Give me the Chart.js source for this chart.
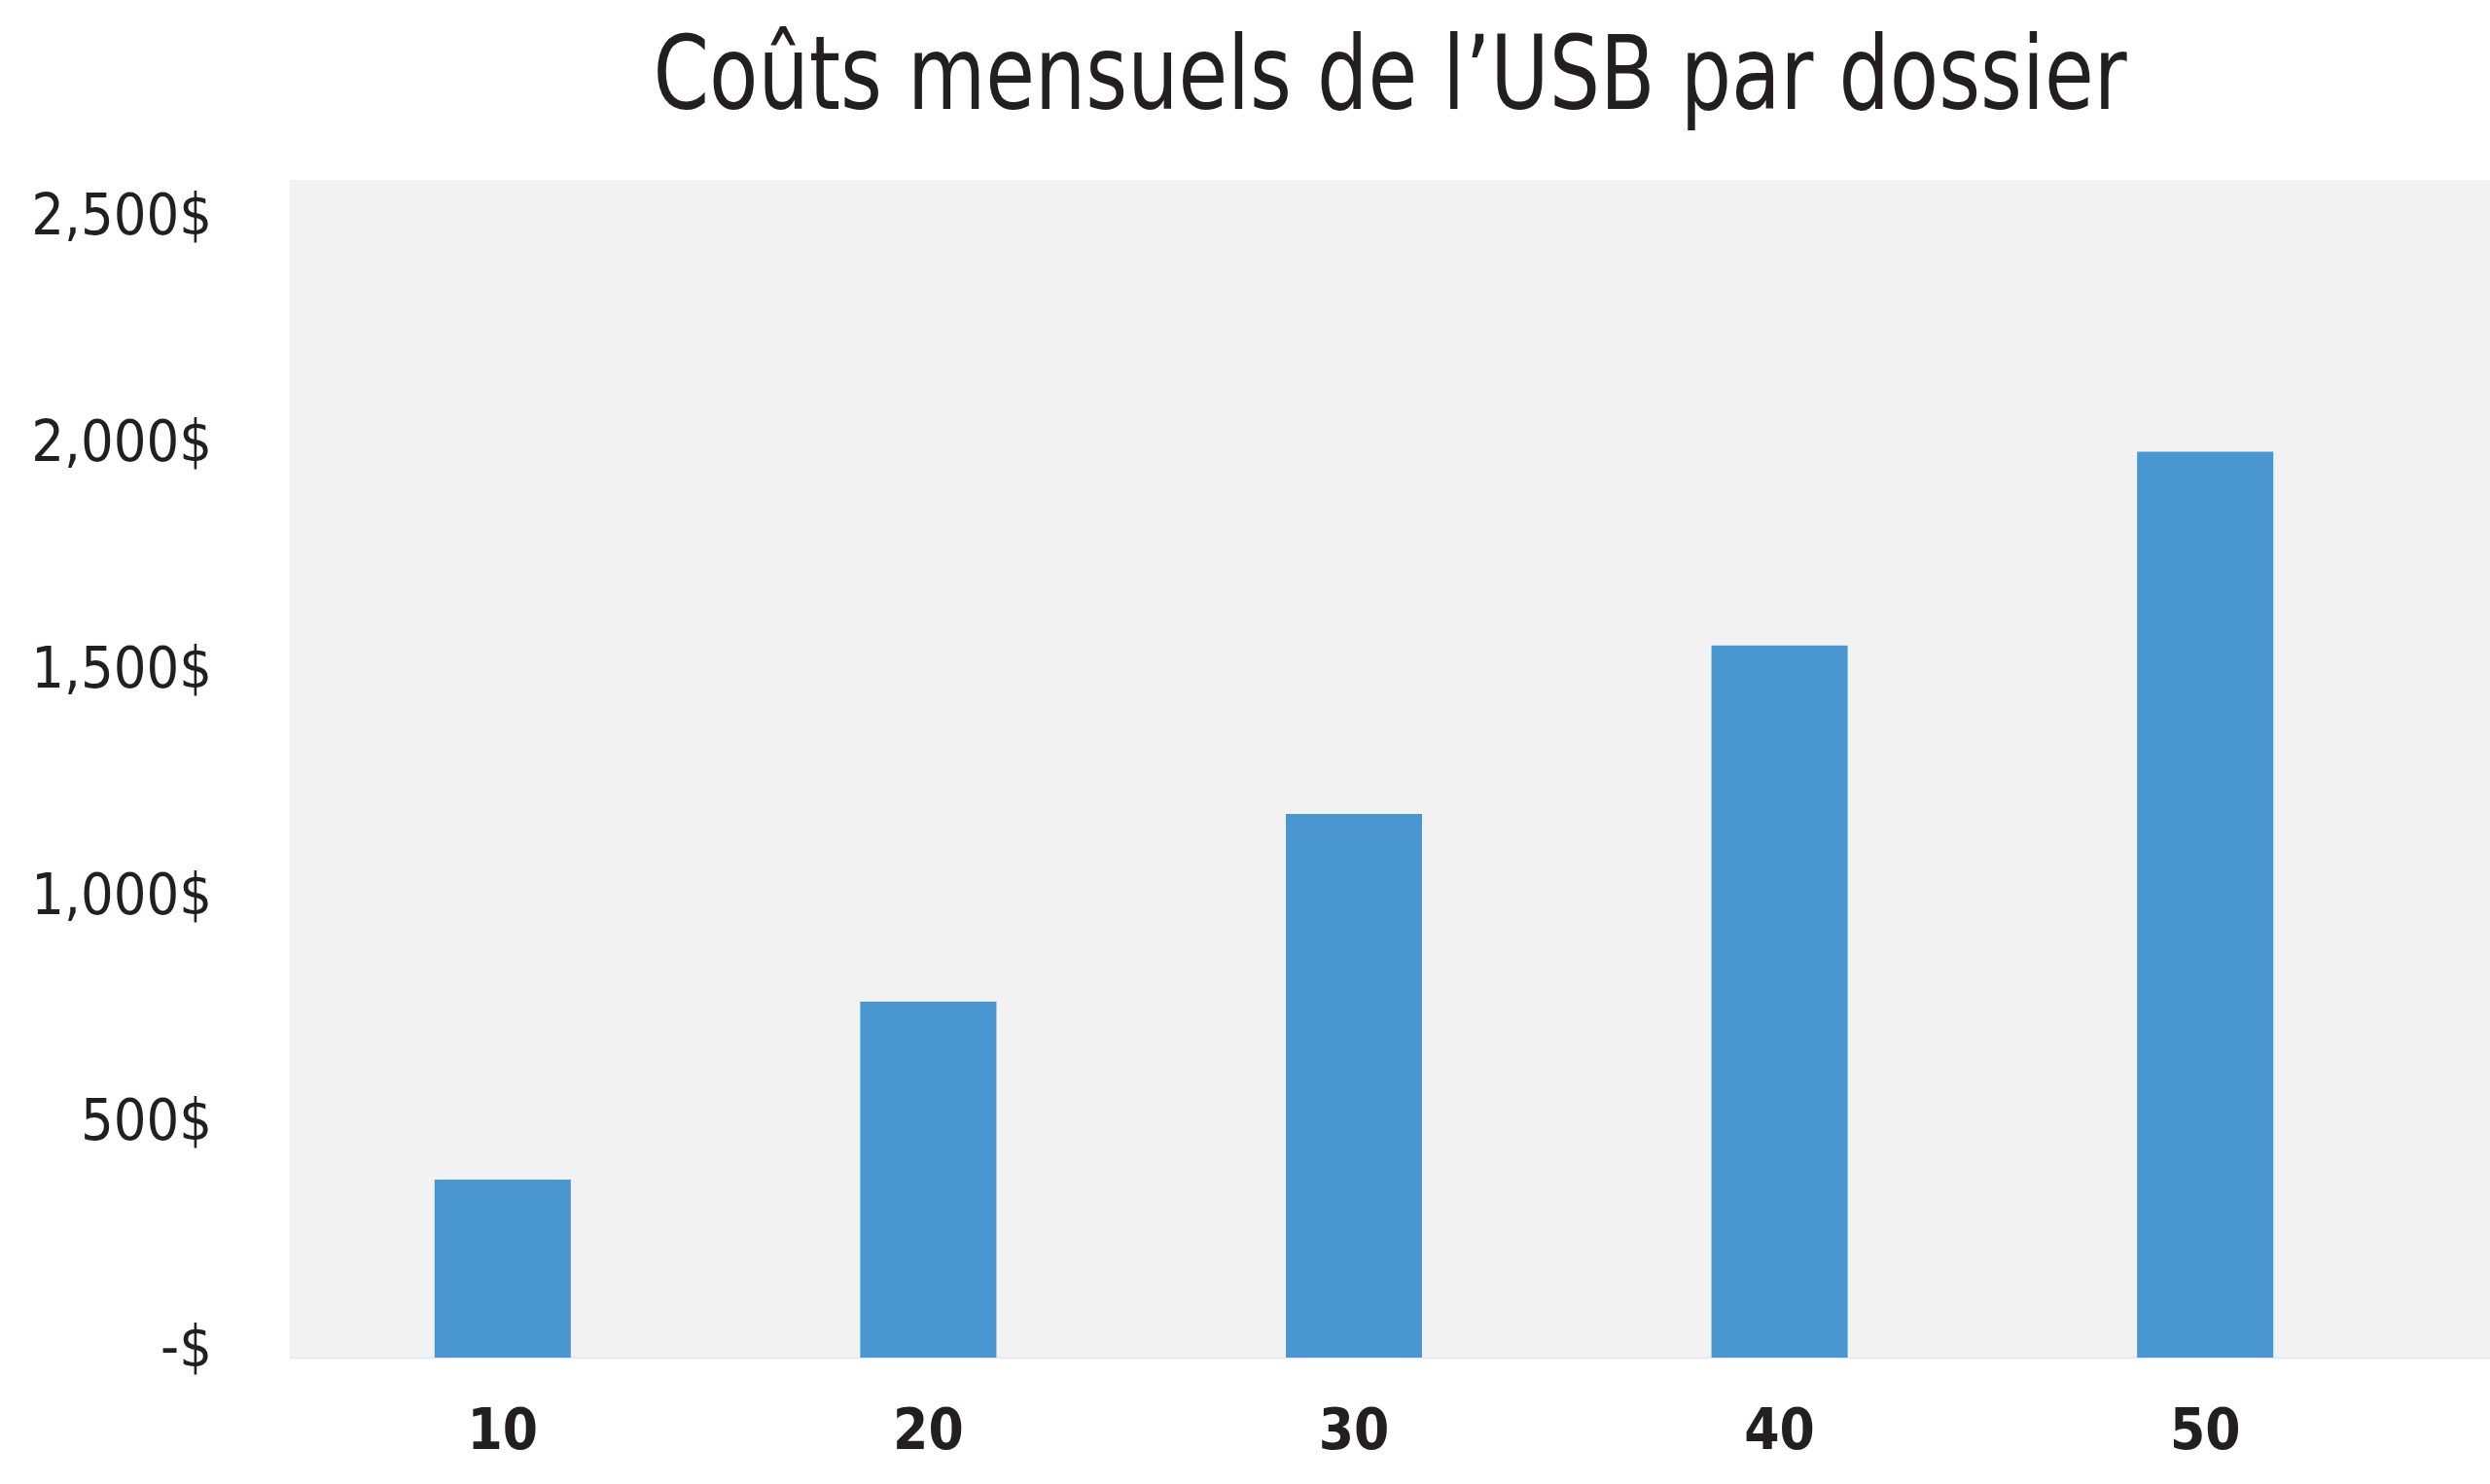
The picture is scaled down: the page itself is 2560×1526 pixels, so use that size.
<!DOCTYPE html>
<html lang="fr">
<head>
<meta charset="utf-8">
<title>Coûts mensuels de l’USB par dossier</title>
<script src="https://cdn.jsdelivr.net/npm/chart.js@4.4.1/dist/chart.umd.min.js"></script>
<style>
  html, body { margin: 0; padding: 0; background: #ffffff; }
  #wrap { width: 2560px; height: 1526px; position: relative; }
</style>
</head>
<body>
<div id="wrap"><canvas id="chart" width="2560" height="1526"></canvas></div>
<script>
const chartTitle = 'Coûts mensuels de l’USB par dossier';
const dossiers = ['10', '20', '30', '40', '50'];
const coutsMensuels = [393, 786, 1200, 1572, 2000];
const yTickValues = [0, 500, 1000, 1500, 2000, 2500];

const fontFamily = '"Liberation Sans Narrow", "DejaVu Sans Condensed", "Liberation Sans", sans-serif';
const textColor = '#231f20';

// fond gris de la zone de tracé, prolongé jusqu'au bord droit + titre
const backdrop = {
  id: 'backdrop',
  beforeDraw(chart) {
    const { ctx, chartArea, width, height } = chart;
    ctx.save();
    ctx.fillStyle = '#ffffff';
    ctx.fillRect(0, 0, width, height);
    ctx.fillStyle = '#f2f2f2';
    ctx.fillRect(chartArea.left, chartArea.top, width - chartArea.left, chartArea.bottom - chartArea.top);
    ctx.strokeStyle = '#e1e7ef';
    ctx.lineWidth = 1.5;
    ctx.beginPath();
    ctx.moveTo(chartArea.left, chartArea.bottom + 0.5);
    ctx.lineTo(width, chartArea.bottom + 0.5);
    ctx.stroke();
    ctx.restore();
  },
  afterDraw(chart) {
    const { ctx, chartArea, width } = chart;
    ctx.save();
    ctx.fillStyle = textColor;
    ctx.font = '106px ' + fontFamily;
    ctx.textAlign = 'center';
    ctx.textBaseline = 'alphabetic';
    // le titre d'origine est plus étroit : on le tasse à la largeur lue (≈1515 px)
    ctx.fillText(chartTitle, (chartArea.left + width) / 2, 112, 1515);
    ctx.restore();
  }
};

new Chart(document.getElementById('chart'), {
  type: 'bar',
  data: {
    labels: dossiers,
    datasets: [{
      label: 'Coûts mensuels',
      data: coutsMensuels,
      backgroundColor: '#4996d1',
      borderWidth: 0,
      barPercentage: 0.32,
      categoryPercentage: 1
    }]
  },
  options: {
    responsive: false,
    devicePixelRatio: 1,
    animation: false,
    layout: { padding: { top: 185, right: 74, bottom: 0, left: 0 } },
    plugins: {
      legend: { display: false },
      tooltip: { enabled: false },
      title: { display: false }
    },
    scales: {
      x: {
        grid: { display: false, drawTicks: false },
        border: { display: false },
        afterFit: (scale) => { scale.height = 130; },
        ticks: {
          color: textColor,
          padding: 44,
          font: { family: fontFamily, size: 58, weight: 'bold' }
        }
      },
      y: {
        min: 0,
        max: 2600,
        grid: { display: false, drawTicks: false },
        border: { display: false },
        afterFit: (scale) => { scale.width = 298; },
        afterBuildTicks: (scale) => {
          scale.ticks = yTickValues.map(v => ({ value: v }));
        },
        ticks: {
          color: textColor,
          padding: 80,
          labelOffset: -6,
          font: { family: fontFamily, size: 59 },
          callback: (value) => value === 0 ? '-$' : value.toLocaleString('en-US') + '$'
        }
      }
    }
  },
  plugins: [backdrop]
});
</script>
</body>
</html>
